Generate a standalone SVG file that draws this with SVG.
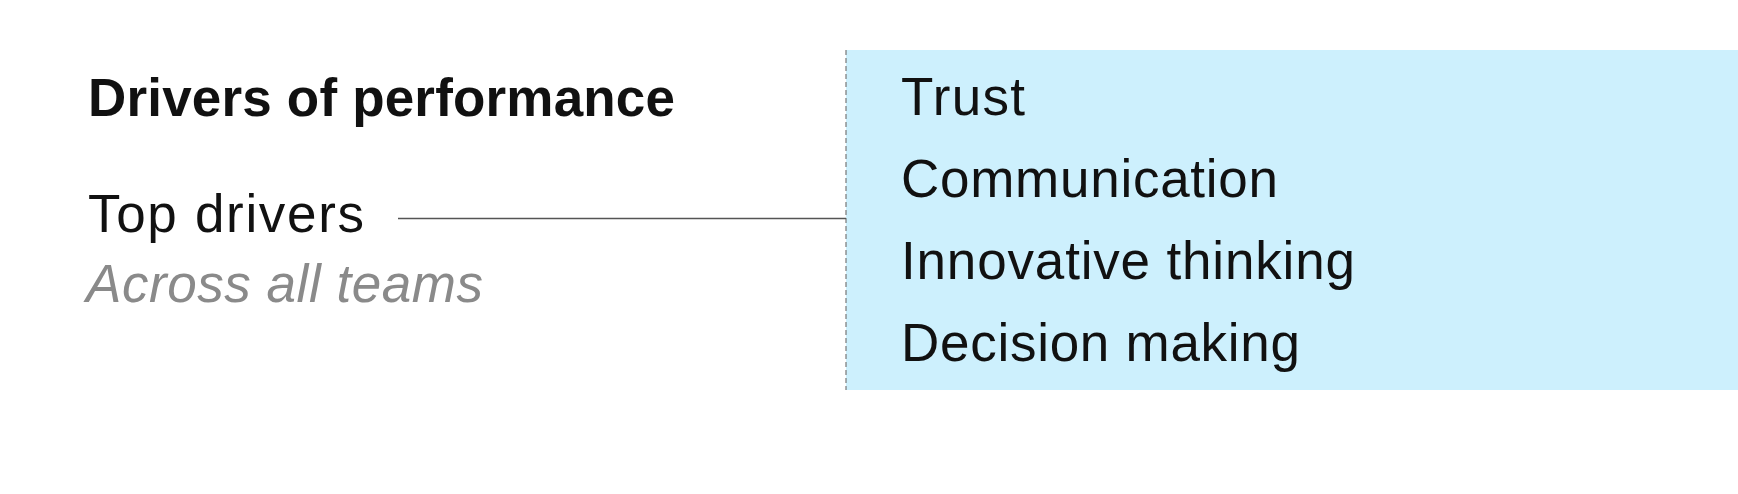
<svg xmlns="http://www.w3.org/2000/svg" width="1738" height="494" viewBox="0 0 1738 494">
  <style>
    text { font-family: "Liberation Sans", Arial, sans-serif; font-size: 53px; fill: #111111; }
    .title { font-weight: bold; }
    .sub { font-style: italic; fill: #8a8a8a; }
    .conn { stroke: #555555; stroke-width: 1.6; fill: none; }
    .dash { stroke: #777777; stroke-width: 1.2; stroke-dasharray: 5 3; fill: none; }
  </style>
  <rect x="0" y="0" width="1738" height="494" fill="#ffffff"/>
  <g id="header">
    <text class="title" x="88" y="116" textLength="587" lengthAdjust="spacing">Drivers of performance</text>
  </g>
  <g id="top-drivers">
    <text x="88" y="232" textLength="276" lengthAdjust="spacing">Top drivers</text>
    <text class="sub" x="86" y="302" textLength="397" lengthAdjust="spacing">Across all teams</text>
  </g>
  <g id="drivers-box">
    <rect x="846" y="50" width="892" height="340" fill="#cdf0fd"/>
    <line class="dash" x1="846" y1="50" x2="846" y2="390"/>
    <text x="901" y="115" textLength="124" lengthAdjust="spacing">Trust</text>
    <text x="901" y="197" textLength="377" lengthAdjust="spacing">Communication</text>
    <text x="901" y="279" textLength="454" lengthAdjust="spacing">Innovative thinking</text>
    <text x="901" y="361" textLength="399" lengthAdjust="spacing">Decision making</text>
  </g>
  <g id="connectors">
    <line class="conn" x1="398" y1="218.5" x2="846" y2="218.5"/>
  </g>
</svg>
